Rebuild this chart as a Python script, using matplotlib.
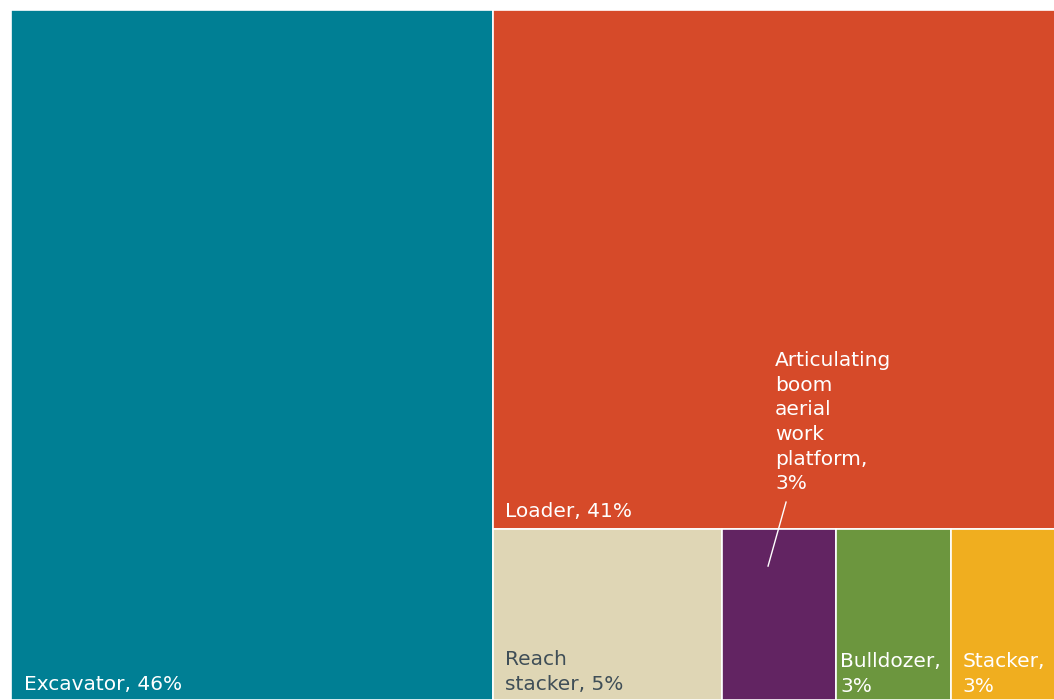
import matplotlib.pyplot as plt
from matplotlib.patches import Rectangle

# share of machines by type (percent)
labels = ['Excavator', 'Loader', 'Reach stacker',
          'Articulating boom aerial work platform', 'Bulldozer', 'Stacker']
shares = [46.0, 41.0, 5.4, 2.7, 2.7, 2.7]
shown = ['46%', '41%', '5%', '3%', '3%', '3%']
colors = ['#007F94', '#D64A29', '#DFD6B5', '#622462', '#6C963E', '#F0AE1F']
text_colors = ['white', 'white', '#3F4E57', 'white', 'white', 'white']

plt.rcParams['font.family'] = ['DejaVu Sans']

fig = plt.figure(figsize=(10.54, 7), dpi=100)
# axes runs a little past the right edge, like the cropped original
ax = fig.add_axes([11 / 1054, 0, 1.0, 690 / 700])
ax.set_xlim(0, 1)
ax.set_ylim(0, 1)
ax.axis('off')
px_x = 1 / 1054   # one pixel in data units
px_y = 1 / 690

# slice and dice: first column, then the rest split into top / bottom row
total = sum(shares)
rects = []
w0 = shares[0] / total
rects.append((0, 0, w0, 1))
rest = total - shares[0]
h_top = shares[1] / rest
rects.append((w0, 1 - h_top, 1 - w0, h_top))
row = sum(shares[2:])
x = w0
for s in shares[2:]:
    w = (1 - w0) * s / row
    rects.append((x, 0, w, 1 - h_top))
    x += w

for (x0, y0, w, h), c in zip(rects, colors):
    ax.add_patch(Rectangle((x0, y0), w, h, facecolor=c,
                           edgecolor='white', linewidth=1.2))

fs = 14.5
ls = 1.37

def put(i, text, dx, dy, xy=None):
    x0, y0, w, h = rects[i]
    ax.annotate(text, xy=xy or (x0, y0), xytext=(dx, dy),
                textcoords='offset pixels', color=text_colors[i],
                fontsize=fs, ha='left', va='baseline',
                linespacing=ls)

put(0, f'{labels[0]}, {shown[0]}', 13, 10)
put(1, f'{labels[1]}, {shown[1]}', 12, 12)
put(2, f'Reach\nstacker, {shown[2]}', 12, 10)
put(4, f'{labels[4]},\n{shown[4]}', 4, 8)
put(5, f'{labels[5]},\n{shown[5]}', 12, 8)

# small tile: label sits up in the loader tile with a leader line
x0, y0, w, h = rects[3]
top = y0 + h
put(3, 'Articulating\nboom\naerial\nwork\nplatform,\n' + shown[3], 53, 40,
    xy=(x0, top))
ax.plot([x0 + 64 * px_x, x0 + 46 * px_x], [top + 27 * px_y, top - 37 * px_y],
        color='white', lw=1)

plt.savefig('out.png', dpi=100)
